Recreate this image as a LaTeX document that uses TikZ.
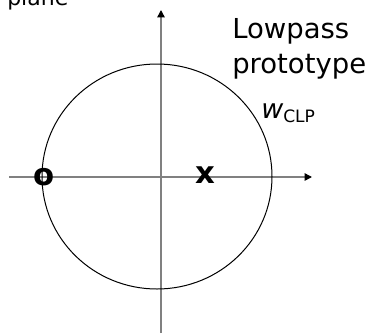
\documentclass[tikz,border=0pt]{standalone}
\usepackage{fontspec}
\setmainfont{DejaVu Sans}
\usepackage{tikz}
\usetikzlibrary{positioning, arrows.meta, calc}

\begin{document}
\begin{tikzpicture}[
  x=0.75pt, y=-0.75pt,
  axis/.style={draw=black!50, line width=1.1pt,
    -{Triangle[length=5.5pt, width=5.5pt, color=black]}},
  title/.style={anchor=base west, inner sep=0pt,
    font=\fontsize{20.6}{24}\selectfont},
  root/.style={inner sep=0pt, font=\fontsize{23}{26}\selectfont\bfseries},
]
  \useasboundingbox (0,0) rectangle (371,333);

  \coordinate (xl) at (9,177);
  \coordinate (xr) at (312,177);
  \coordinate (yb) at (161,333);
  \coordinate (yt) at (161,10);

  \draw[axis] (xl) -- (xr);
  \draw[axis] (yb) -- (yt);
  \draw[black, line width=0.75pt] (157,176.5) ellipse [x radius=115, y radius=112.5];

  \node[anchor=base west, inner sep=0pt, font=\fontsize{16.5}{20}\selectfont]
    (plane) at (7,5) {plane};
  \node[title] (lp) at (232,38) {Lowpass};
  \node[title] (proto) at (232,73) {prototype};
  \node[anchor=base west, inner sep=0pt, font=\fontsize{20.2}{24}\selectfont]
    (wc) at (261,118) {\textit{w}\textsubscript{\fontsize{12.8}{14}\selectfont CLP}};

  \node[root] (zero) at (44,177.5) {o};
  \node[root] (pole) at (205,175.5) {x};
\end{tikzpicture}
\end{document}
